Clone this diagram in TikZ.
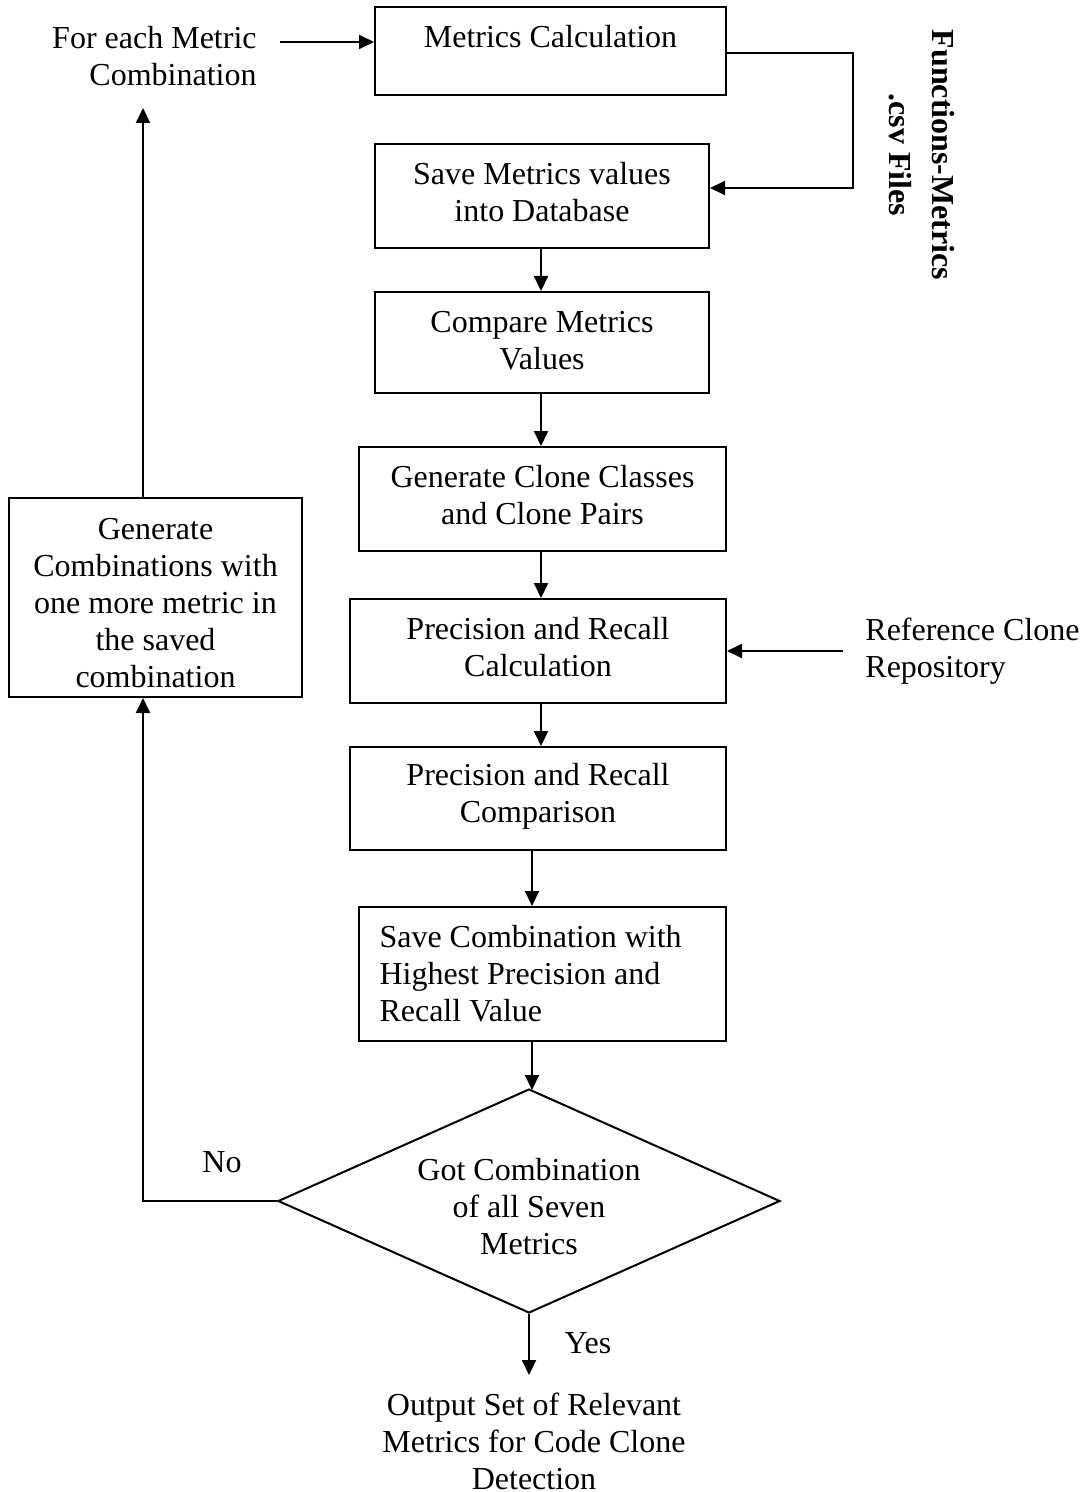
\documentclass[tikz,border=0pt]{standalone}
\usepackage{fontspec}
\setmainfont{Liberation Serif}
\usetikzlibrary{arrows.meta,shapes.geometric}
\newcommand\myfs{\fontsize{16pt}{18.5pt}\selectfont}
\tikzset{
  box/.style={draw, line width=1pt, inner sep=0pt, align=center, font=\myfs},
  txt/.style={inner sep=0pt, font=\myfs},
  arr/.style={line width=1pt, -{Triangle[length=7.5pt,width=7pt]}},
  ln/.style={line width=1pt}
}
\begin{document}
\begin{tikzpicture}[x=0.5pt,y=-0.5pt]
\useasboundingbox (0,0) rectangle (1089,1492);
% main boxes
\node[box, minimum width=175.5pt, minimum height=44pt, text height=11pt, text depth=14pt] (b1) at (550.5,51) {Metrics Calculation};
\node[box, minimum width=167pt, minimum height=52pt, text depth=4pt] (b2) at (542,196) {Save Metrics values\\into Database};
\node[box, minimum width=167pt, minimum height=50.5pt, text depth=2pt] (b3) at (542,342.5) {Compare Metrics\\Values};
\node[box, minimum width=183.5pt, minimum height=52pt, text depth=4pt] (b4) at (542.5,499) {Generate Clone Classes\\and Clone Pairs};
\node[box, minimum width=188pt, minimum height=52pt, text depth=4pt] (b5) at (538,651) {Precision and Recall\\Calculation};
\node[box, minimum width=188pt, minimum height=51.5pt, text depth=5.5pt] (b6) at (538,798.5) {Precision and Recall\\Comparison};
\node[box, minimum width=183.5pt, minimum height=67pt, align=flush left, text width=162.5pt, inner xsep=10.5pt] (b7) at (542,974) {Save Combination with\\Highest Precision and\\Recall Value};
\node[draw, diamond, line width=1pt, minimum width=251pt, minimum height=112pt, inner sep=0pt] (d) at (529,1201) {};
\node[txt, align=center] (dt) at (529,1207) {Got Combination\\of all Seven\\Metrics};
\node[box, minimum width=146.5pt, minimum height=99.5pt, text height=89.8pt, text depth=0pt] (L) at (155.5,597.5) {Generate\\Combinations with\\one more metric in\\the saved\\combination};
% texts
\node[txt, align=right, anchor=east] (fe) at (257,56.5) {For each Metric\\Combination};
\node[txt, align=left, anchor=west] (ref) at (865,651.5) {Reference Clone\\Repository};
\node[txt, align=center] (out) at (534,1441) {Output Set of Relevant\\Metrics for Code Clone\\Detection};
\node[inner sep=0pt, rotate=-90, align=center, font=\myfs\bfseries] (csv) at (922,155) {Functions-Metrics\\[3pt].csv Files};
\node[txt] (no) at (222,1162) {No};
\node[txt] (yes) at (588,1343) {Yes};
% helper coordinates
\coordinate (fe1) at (280,42);
\coordinate (c1) at (853,53);
\coordinate (c2) at (853,188);
\coordinate (rr) at (843,651);
\coordinate (vx) at (541,0);
\coordinate (vy) at (532,0);
\coordinate (lx) at (143,0);
\coordinate (fa) at (143,108);
\coordinate (oy) at (529,1375);
% connectors
\draw[arr] (fe1) -- (b1.west |- fe1);
\draw[arr] (b1.east |- c1) -- (c1) -- (c2) -- (b2.east |- c2);
\draw[arr] (b2.south -| vx) -- (b3.north -| vx);
\draw[arr] (b3.south -| vx) -- (b4.north -| vx);
\draw[arr] (b4.south -| vx) -- (b5.north -| vx);
\draw[arr] (b5.south -| vx) -- (b6.north -| vx);
\draw[arr] (b6.south -| vy) -- (b7.north -| vy);
\draw[arr] (b7.south -| vy) -- ([yshift=-1pt]d.north -| vy);
\draw[arr] (rr) -- (b5.east |- rr);
\draw[arr] (d.west) -| (L.south -| lx);
\draw[arr] (L.north -| lx) -- (fa);
\draw[arr] (d.south) -- (oy);
\end{tikzpicture}
\end{document}
